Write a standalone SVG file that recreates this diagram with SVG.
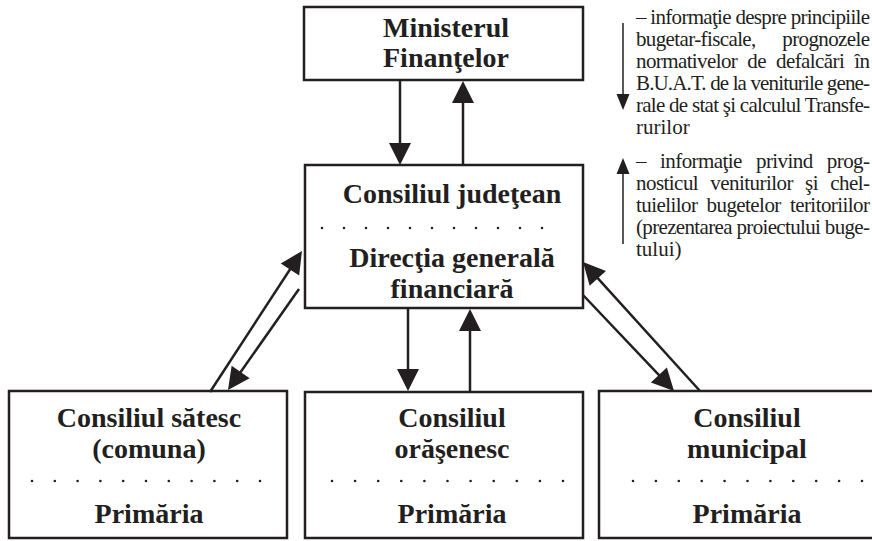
<svg xmlns="http://www.w3.org/2000/svg" width="872" height="541" viewBox="0 0 872 541">
  <style>
    .box { fill: #ffffff; stroke: #231f20; stroke-width: 2.5; }
    .title { font-family: "Liberation Serif", "Times New Roman", serif; font-weight: bold; font-size: 28px; fill: #231f20; text-anchor: middle; }
    .note { font-family: "Liberation Serif", "Times New Roman", serif; fill: #231f20; }
    .dots { stroke: #231f20; stroke-width: 2.6; stroke-linecap: round; fill: none; }
    .link { stroke: #231f20; stroke-width: 2.5; fill: none; marker-end: url(#head); }
    .hint { stroke: #231f20; stroke-width: 1.5; fill: none; marker-end: url(#smallhead); }
  </style>
  <defs>
    <marker id="head" markerUnits="userSpaceOnUse" markerWidth="24" markerHeight="24" refX="14" refY="11" orient="auto" overflow="visible">
      <path d="M0,0 L22,11 L0,22 Z" fill="#231f20"/>
    </marker>
    <marker id="smallhead" markerUnits="userSpaceOnUse" markerWidth="18" markerHeight="14" refX="11" refY="6.5" orient="auto" overflow="visible">
      <path d="M0,0 L16,6.5 L0,13 Z" fill="#231f20"/>
    </marker>
  </defs>

  <rect width="872" height="541" fill="#ffffff"/>

  <!-- Ministry of Finance -->
  <g id="ministerul">
    <rect class="box" x="304" y="7" width="279" height="73"/>
    <text class="title" x="446" y="37">Ministerul</text>
    <text class="title" x="446" y="67">Finanţelor</text>
  </g>

  <!-- County council / financial directorate -->
  <g id="consiliul-judetean">
    <rect class="box" x="305" y="165" width="278" height="143"/>
    <text class="title" x="452" y="203">Consiliul judeţean</text>
    <line class="dots" x1="322" y1="228" x2="564" y2="228" stroke-dasharray="0 22"/>
    <text class="title" x="452" y="267">Direcţia generală</text>
    <text class="title" x="452" y="298">financiară</text>
  </g>

  <!-- Village council -->
  <g id="consiliul-satesc">
    <rect class="box" x="9" y="391" width="278" height="147"/>
    <text class="title" x="149" y="427">Consiliul sătesc</text>
    <text class="title" x="149" y="458">(comuna)</text>
    <line class="dots" x1="32" y1="481" x2="261" y2="481" stroke-dasharray="0 22.8"/>
    <text class="title" x="149" y="523">Primăria</text>
  </g>

  <!-- Town council -->
  <g id="consiliul-orasenesc">
    <rect class="box" x="305" y="392" width="278" height="146"/>
    <text class="title" x="452" y="427">Consiliul</text>
    <text class="title" x="452" y="458">orăşenesc</text>
    <line class="dots" x1="332" y1="481" x2="564" y2="481" stroke-dasharray="0 23.1"/>
    <text class="title" x="452" y="523">Primăria</text>
  </g>

  <!-- Municipal council -->
  <g id="consiliul-municipal">
    <rect class="box" x="599" y="391" width="296" height="147"/>
    <text class="title" x="747" y="427">Consiliul</text>
    <text class="title" x="747" y="458">municipal</text>
    <line class="dots" x1="633" y1="481" x2="864" y2="481" stroke-dasharray="0 22.9"/>
    <text class="title" x="747" y="523">Primăria</text>
  </g>

  <!-- Legend notes: justified paragraphs, widened with word-spacing -->
  <g id="legenda" font-size="21">
    <line class="hint" x1="623" y1="23" x2="623" y2="105"/>
    <text class="note" x="636" y="24" font-size="21" textLength="234" lengthAdjust="spacing">– informaţie despre principiile</text>
    <text class="note" x="636" y="46" font-size="21" word-spacing="22" textLength="234" lengthAdjust="spacing">bugetar-fiscale, prognozele</text>
    <text class="note" x="636" y="68" font-size="21" word-spacing="5.5" textLength="234" lengthAdjust="spacing">normativelor de defalcări în</text>
    <text class="note" x="636" y="90" font-size="21" textLength="234" lengthAdjust="spacing">B.U.A.T. de la veniturile gene-</text>
    <text class="note" x="636" y="112" font-size="21" textLength="234" lengthAdjust="spacing">rale de stat şi calculul Transfe-</text>
    <text class="note" x="636" y="134" font-size="21">rurilor</text>

    <line class="hint" x1="623" y1="244" x2="623" y2="163"/>
    <text class="note" x="636" y="168" font-size="21" word-spacing="9.5" textLength="234" lengthAdjust="spacing">– informaţie privind prog-</text>
    <text class="note" x="636" y="190" font-size="21" word-spacing="7.5" textLength="234" lengthAdjust="spacing">nosticul veniturilor şi chel-</text>
    <text class="note" x="636" y="212" font-size="21" word-spacing="4.5" textLength="234" lengthAdjust="spacing">tuielilor bugetelor teritoriilor</text>
    <text class="note" x="636" y="234" font-size="21" textLength="234" lengthAdjust="spacing">(prezentarea proiectului buge-</text>
    <text class="note" x="636" y="256" font-size="21">tului)</text>
  </g>

  <!-- Information flows between levels -->
  <g id="conectori">
    <line class="link" x1="400" y1="80" x2="400" y2="157"/>
    <line class="link" x1="463" y1="165" x2="463" y2="89"/>
    <line class="link" x1="408" y1="308" x2="408" y2="383"/>
    <line class="link" x1="470" y1="392" x2="470" y2="317"/>
    <line class="link" x1="210" y1="392" x2="297.6" y2="257.7"/>
    <line class="link" x1="299" y1="289" x2="232.6" y2="383.5"/>
    <line class="link" x1="700" y1="391" x2="588.4" y2="267.9"/>
    <line class="link" x1="583" y1="295" x2="668.5" y2="385.2"/>
  </g>
</svg>
